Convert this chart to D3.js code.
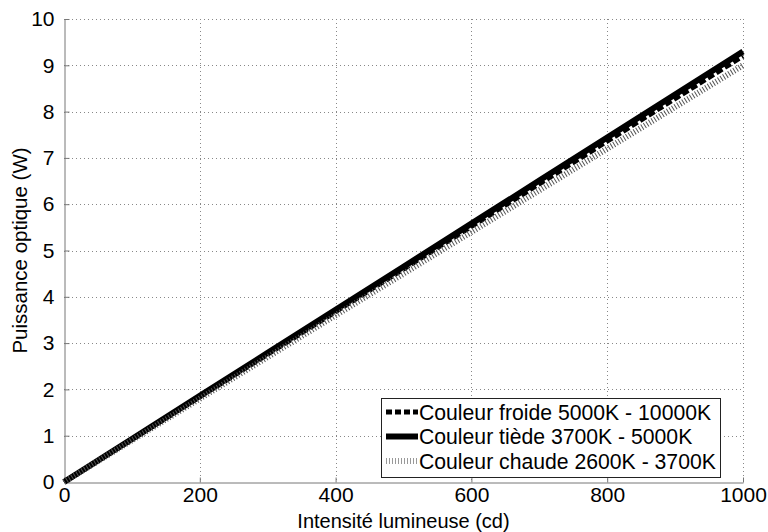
<!DOCTYPE html>
<html><head><meta charset="utf-8">
<script src="https://cdn.jsdelivr.net/npm/d3@7"></script>
<style>
html,body{margin:0;padding:0;background:#fff;}
svg{display:block;font-family:"Liberation Sans",Arial,sans-serif;}
</style></head>
<body><svg id="c" width="768" height="532"></svg>
<script>
const intensity = [0, 100, 200, 300, 400, 500, 600, 700, 800, 900, 1000];
const froide = [0, 0.92, 1.84, 2.76, 3.68, 4.60, 5.52, 6.44, 7.36, 8.28, 9.20];
const tiede  = [0, 0.93, 1.86, 2.79, 3.72, 4.65, 5.58, 6.51, 7.44, 8.37, 9.30];
const chaude = [0, 0.90, 1.80, 2.70, 3.60, 4.50, 5.40, 6.30, 7.20, 8.10, 9.00];
const xTicks = [0, 200, 400, 600, 800, 1000];
const yTicks = [0, 1, 2, 3, 4, 5, 6, 7, 8, 9, 10];
const seriesNames = ["Couleur froide 5000K - 10000K", "Couleur tiède 3700K - 5000K", "Couleur chaude 2600K - 3700K"];
const xLabel = "Intensité lumineuse (cd)";
const yLabel = "Puissance optique (W)";

const svg = d3.select("#c");
const L = 64, R = 743, T = 19, B = 482;
const x = d3.scaleLinear().domain([0, 1000]).range([L, R]);
const y = d3.scaleLinear().domain([0, 10]).range([B, T]);

// grid
const grid = svg.append("g").attr("stroke", "#888").attr("stroke-width", 1).attr("stroke-dasharray", "1,3");
grid.selectAll(".gx").data(xTicks.slice(1)).join("line")
  .attr("x1", d => Math.round(x(d)) + 0.5).attr("x2", d => Math.round(x(d)) + 0.5)
  .attr("y1", T).attr("y2", B);
grid.selectAll(".gy").data(yTicks.slice(1)).join("line")
  .attr("y1", d => Math.round(y(d)) + 0.5).attr("y2", d => Math.round(y(d)) + 0.5)
  .attr("x1", L).attr("x2", R);

// axes
const fs = 21;
const xAxis = d3.axisBottom(x).tickValues(xTicks).tickSizeInner(-5).tickSizeOuter(0).tickPadding(5).tickFormat(d3.format("d"));
const yAxis = d3.axisLeft(y).tickValues(yTicks).tickSizeInner(-5).tickSizeOuter(0).tickPadding(10).tickFormat(d3.format("d"));
const gx = svg.append("g").attr("transform", `translate(0,${B + 0.5})`).call(xAxis);
const gy = svg.append("g").attr("transform", `translate(${L + 0.5},0)`).call(yAxis);
[gx, gy].forEach(g => {
  g.select(".domain").attr("stroke", "#777");
  g.selectAll(".tick line").attr("stroke", "#777");
  g.selectAll("text").attr("font-size", fs).attr("fill", "#000").attr("font-family", "Liberation Sans, Arial, sans-serif");
});

// lines
const line = vals => d3.line().x((d, i) => x(intensity[i])).y(d => y(d))(vals);
svg.append("path").attr("d", line(froide)).attr("fill", "none").attr("stroke", "#000").attr("stroke-width", 5).attr("stroke-dasharray", "7,3");
svg.append("path").attr("d", line(tiede)).attr("fill", "none").attr("stroke", "#000").attr("stroke-width", 6);
svg.append("path").attr("d", line(chaude)).attr("fill", "none").attr("stroke", "#555").attr("stroke-width", 6).attr("stroke-dasharray", "1,2");

// legend
const lg = svg.append("g");
const lx = 381, ly = 398, lw = 339, lh = 79;
lg.append("rect").attr("x", lx + 0.5).attr("y", ly + 0.5).attr("width", lw).attr("height", lh)
  .attr("fill", "#fff").attr("stroke", "#222").attr("stroke-width", 1);
const styles = [
  {w: 5, dash: "6,3", c: "#000"},
  {w: 6, dash: null, c: "#000"},
  {w: 6, dash: "1,2", c: "#999"}
];
seriesNames.forEach((n, i) => {
  const cy = ly + 14 + i * 24.5;
  lg.append("line").attr("x1", lx + 5).attr("x2", lx + 37).attr("y1", cy).attr("y2", cy)
    .attr("stroke", styles[i].c).attr("stroke-width", styles[i].w).attr("stroke-dasharray", styles[i].dash);
  lg.append("text").attr("x", lx + 38).attr("y", cy).attr("dy", "0.36em").attr("font-size", 21.2).text(n);
});

// axis labels
svg.append("text").attr("x", (L + R) / 2).attr("y", 528).attr("text-anchor", "middle").attr("font-size", 20).text(xLabel);
svg.append("text").attr("transform", `translate(27,${(T + B) / 2}) rotate(-90)`).attr("text-anchor", "middle").attr("font-size", 20.5).text(yLabel);
</script></body></html>
